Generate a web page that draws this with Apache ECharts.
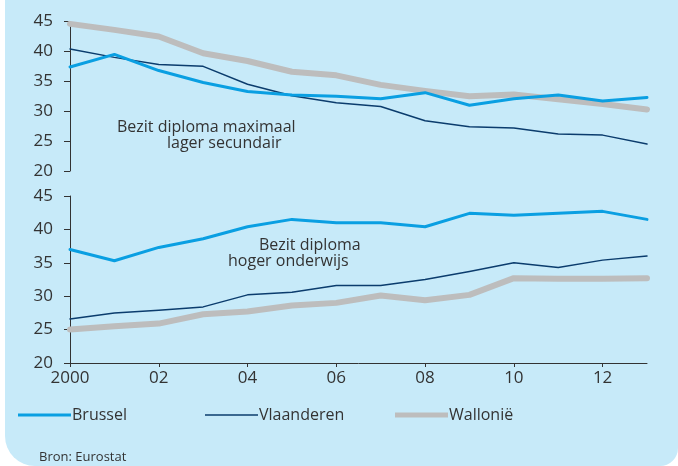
<!DOCTYPE html>
<html>
<head>
<meta charset="utf-8">
<script src="https://cdn.jsdelivr.net/npm/echarts@6/dist/echarts.min.js"></script>
<style>
html,body{margin:0;padding:0;background:#fff;}
#c{width:678px;height:466px;}
</style>
</head>
<body>
<div id="c"></div>
<script>
var years = ['2000','01','02','03','04','05','06','07','08','09','10','11','12','13'];
var yTicks = [20, 25, 30, 35, 40, 45];
var seriesNames = ['Brussel', 'Vlaanderen', 'Wallonië'];

// Panel 1: Bezit diploma maximaal lager secundair
var lowBrussel    = [37.4, 39.5, 36.8, 34.8, 33.3, 32.7, 32.5, 32.1, 33.1, 31.0, 32.1, 32.7, 31.7, 32.3];
var lowVlaanderen = [40.4, 39.0, 37.8, 37.5, 34.5, 32.6, 31.4, 30.8, 28.4, 27.4, 27.2, 26.2, 26.0, 24.5];
var lowWallonie   = [44.6, 43.6, 42.5, 39.7, 38.4, 36.6, 36.0, 34.4, 33.4, 32.5, 32.8, 32.0, 31.2, 30.3];

// Panel 2: Bezit diploma hoger onderwijs
var highBrussel    = [37.0, 35.3, 37.3, 38.6, 40.4, 41.5, 41.0, 41.0, 40.4, 42.4, 42.1, 42.4, 42.7, 41.5];
var highVlaanderen = [26.6, 27.5, 27.9, 28.4, 30.2, 30.6, 31.6, 31.6, 32.5, 33.7, 35.0, 34.3, 35.4, 36.0];
var highWallonie   = [25.0, 25.5, 25.9, 27.3, 27.7, 28.6, 29.0, 30.1, 29.4, 30.2, 32.7, 32.6, 32.6, 32.7];

var colors = ['#0a9fe2', '#0b3c6d', '#bdbdbd'];
var widths = [3, 1.5, 6];
var txt = '#333333';
var font = 'Open Sans';

var chart = echarts.init(document.getElementById('c'), null, {renderer: 'canvas'});

function yAxis(idx) {
  return {
    type: 'value', gridIndex: idx, min: yTicks[0], max: yTicks[yTicks.length - 1], interval: 5,
    axisLine: {show: true, lineStyle: {color: txt, width: 1}},
    axisTick: {show: true, length: 6, lineStyle: {color: txt}},
    axisLabel: {color: txt, fontSize: 17, fontFamily: font, margin: 17},
    splitLine: {show: false}
  };
}
function mk(name, data, i, axis) {
  return {
    name: name, type: 'line', xAxisIndex: axis, yAxisIndex: axis, data: data,
    symbol: 'none', smooth: false,
    lineStyle: {color: colors[i], width: widths[i], cap: 'round', join: 'round'},
    itemStyle: {color: colors[i]}, z: 2 + (2 - i)
  };
}
function legend(i, left) {
  return {
    left: left, top: 402, data: [{name: seriesNames[i], icon: 'rect'}],
    itemWidth: 53, itemHeight: widths[i] < 2 ? 1.5 : widths[i] - (i === 2 ? 1 : 0),
    textStyle: {color: txt, fontSize: 16, fontFamily: font, padding: [0, 0, 0, -4]},
    selectedMode: false
  };
}

chart.setOption({
  animation: false,
  backgroundColor: 'transparent',
  graphic: [
    {type: 'rect', z: -10, shape: {x: 5, y: -40, width: 673, height: 506, r: [0, 0, 18, 30]}, style: {fill: '#c7eaf9'}},
    {type: 'text', left: 117, top: 119, style: {text: 'Bezit diploma maximaal', fill: txt, font: '16px "Open Sans"'}},
    {type: 'text', left: 167, top: 135, style: {text: 'lager secundair', fill: txt, font: '16px "Open Sans"'}},
    {type: 'text', left: 259, top: 237, style: {text: 'Bezit diploma', fill: txt, font: '16px "Open Sans"'}},
    {type: 'text', left: 228, top: 253, style: {text: 'hoger onderwijs', fill: txt, font: '16px "Open Sans"'}},
    {type: 'text', left: 39, top: 451, style: {text: 'Bron: Eurostat', fill: txt, font: '13px "Open Sans"'}}
  ],
  grid: [
    {left: 70, top: 21.5, width: 577, height: 149.5},
    {left: 70, top: 196, width: 577, height: 167}
  ],
  xAxis: [
    {type: 'category', gridIndex: 0, data: years, boundaryGap: false, show: false},
    {type: 'category', gridIndex: 1, data: years, boundaryGap: false,
     axisLine: {show: true, lineStyle: {color: txt, width: 1}},
     axisTick: {show: true, interval: 1, length: 4, lineStyle: {color: txt}},
     axisLabel: {interval: 1, color: txt, fontSize: 17, fontFamily: font, margin: 7}}
  ],
  yAxis: [yAxis(0), yAxis(1)],
  legend: [legend(0, 13), legend(1, 200), legend(2, 390)],
  series: [
    mk('Wallonië', lowWallonie, 2, 0),
    mk('Vlaanderen', lowVlaanderen, 1, 0),
    mk('Brussel', lowBrussel, 0, 0),
    mk('Wallonië', highWallonie, 2, 1),
    mk('Vlaanderen', highVlaanderen, 1, 1),
    mk('Brussel', highBrussel, 0, 1)
  ]
});
</script>
</body>
</html>
